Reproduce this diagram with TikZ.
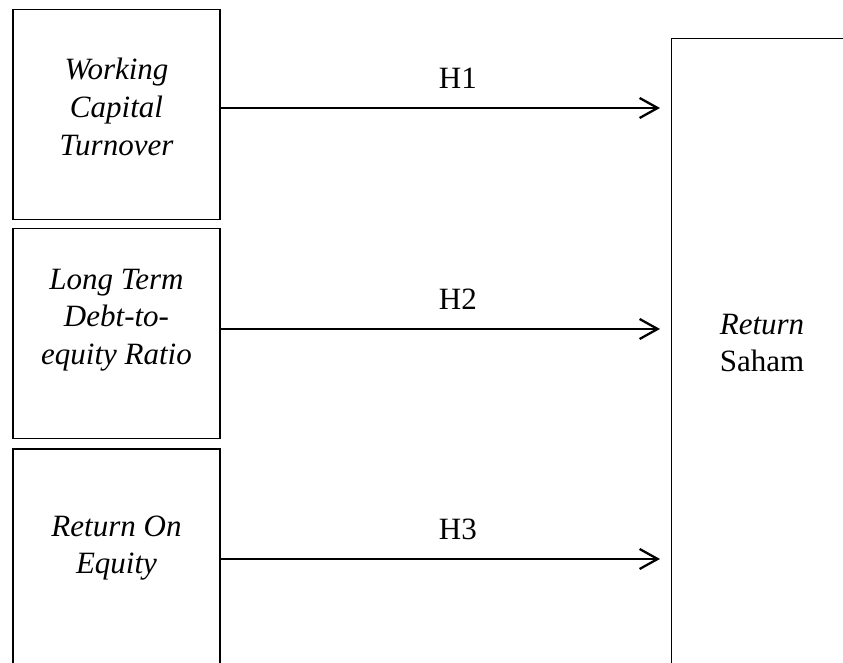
\documentclass[tikz,border=0pt]{standalone}
\usepackage{fontspec}
\setmainfont{Liberation Serif}
\usetikzlibrary{arrows.meta}

\tikzstyle{var} = [draw, rectangle, line width=0.7pt, minimum width=103.5pt,
    minimum height=104.75pt, inner sep=0pt]
\tikzstyle{txt} = [align=center, font=\fontsize{15.5}{18.8}\selectfont\itshape]
\tikzstyle{hyp} = [font=\fontsize{15.5}{18.8}\selectfont, inner sep=0pt]
\tikzstyle{link} = [->, line width=1.15pt]

\begin{document}
\begin{tikzpicture}[x=0.5pt, y=-0.5pt, >={Straight Barb[length=9pt, width=10pt]}]
      \clip (0,0) rectangle (843,663);
      \node [var] (wct) at (116.5,114.5) {};
      \node [var] (lder) at (116.5,333.5) {};
      \node [var, minimum height=130pt] (roe) at (116.5,579) {};
      \node [draw, rectangle, line width=0.6pt, minimum width=130pt,
          minimum height=350pt, anchor=north west] (saham) at (671,38) {};

      \node [txt] (wcttext) at (116.5,107) {Working\\Capital\\Turnover};
      \node [txt] (ldertext) at (116.5,320) {Long Term\\Debt-to-\\equity Ratio};
      \node [txt] (roetext) at (116.5,548) {Return On\\Equity};
      \node [txt] (sahamtext) at (762,343) {Return\\\upshape Saham};

      \coordinate (end1) at (660,108);
      \coordinate (end2) at (660,329);
      \coordinate (end3) at (660,559);

      \draw [link] (wct.east |- end1) -- node[hyp, above=9pt, pos=0.54] {H1} (end1);
      \draw [link] (lder.east |- end2) -- node[hyp, above=9pt, pos=0.54] {H2} (end2);
      \draw [link] (roe.east |- end3) -- node[hyp, above=9pt, pos=0.54] {H3} (end3);
    \end{tikzpicture}
\end{document}
